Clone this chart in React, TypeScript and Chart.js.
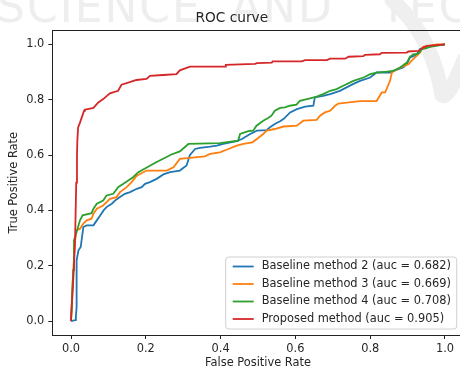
import React, { useEffect, useRef } from "react";
import { Chart, registerables } from "chart.js";

Chart.register(...registerables);

const seriesLabels = [
  "Baseline method 2 (auc = 0.682)",
  "Baseline method 3 (auc = 0.669)",
  "Baseline method 4 (auc = 0.708)",
  "Proposed method (auc = 0.905)",
];
const seriesColors = ["#1f77b4", "#ff7f0e", "#2ca02c", "#d62728"];

const baseline2Fpr = [0, 0.011, 0.013, 0.015, 0.015, 0.020, 0.026, 0.033, 0.042, 0.060, 0.069, 0.078, 0.087, 0.095, 0.109, 0.118, 0.131, 0.144, 0.158, 0.176, 0.189, 0.198, 0.211, 0.229, 0.247, 0.265, 0.291, 0.309, 0.318, 0.332, 0.345, 0.372, 0.390, 0.407, 0.443, 0.457, 0.479, 0.497, 0.523, 0.532, 0.545, 0.559, 0.568, 0.586, 0.604, 0.626, 0.648, 0.652, 0.674, 0.693, 0.719, 0.755, 0.773, 0.800, 0.817, 0.853, 0.862, 0.888, 0.898, 0.906, 0.924, 0.933, 0.947, 0.965, 0.987, 1.0];
const baseline2Tpr = [0, 0.004, 0.015, 0.051, 0.220, 0.256, 0.268, 0.340, 0.346, 0.346, 0.364, 0.382, 0.400, 0.412, 0.424, 0.436, 0.448, 0.460, 0.466, 0.478, 0.484, 0.496, 0.502, 0.514, 0.530, 0.538, 0.544, 0.562, 0.600, 0.622, 0.626, 0.630, 0.634, 0.640, 0.650, 0.658, 0.676, 0.688, 0.690, 0.700, 0.712, 0.722, 0.730, 0.754, 0.766, 0.775, 0.778, 0.808, 0.814, 0.820, 0.832, 0.857, 0.868, 0.880, 0.898, 0.898, 0.904, 0.916, 0.928, 0.952, 0.962, 0.983, 0.988, 0.994, 0.997, 1.0];

const baseline3Fpr = [0, 0.003, 0.006, 0.011, 0.015, 0.024, 0.033, 0.042, 0.055, 0.060, 0.069, 0.086, 0.104, 0.122, 0.131, 0.149, 0.162, 0.176, 0.202, 0.256, 0.274, 0.291, 0.318, 0.358, 0.372, 0.398, 0.416, 0.443, 0.461, 0.485, 0.497, 0.514, 0.523, 0.545, 0.568, 0.604, 0.621, 0.657, 0.666, 0.679, 0.693, 0.706, 0.715, 0.737, 0.773, 0.817, 0.831, 0.840, 0.853, 0.858, 0.880, 0.902, 0.915, 0.933, 0.941, 0.960, 0.978, 1.0];
const baseline3Tpr = [0, 0.08, 0.184, 0.292, 0.328, 0.334, 0.352, 0.364, 0.370, 0.388, 0.406, 0.418, 0.442, 0.448, 0.466, 0.484, 0.502, 0.525, 0.544, 0.544, 0.556, 0.586, 0.590, 0.595, 0.604, 0.610, 0.619, 0.634, 0.640, 0.646, 0.658, 0.676, 0.688, 0.694, 0.703, 0.706, 0.724, 0.727, 0.742, 0.754, 0.760, 0.778, 0.786, 0.789, 0.795, 0.795, 0.826, 0.826, 0.868, 0.898, 0.916, 0.928, 0.946, 0.970, 0.991, 0.994, 1.0, 1.0];

const baseline4Fpr = [0, 0.003, 0.006, 0.008, 0.015, 0.024, 0.031, 0.055, 0.060, 0.069, 0.086, 0.095, 0.113, 0.126, 0.140, 0.153, 0.166, 0.180, 0.193, 0.229, 0.253, 0.267, 0.291, 0.314, 0.398, 0.447, 0.452, 0.474, 0.487, 0.496, 0.514, 0.527, 0.536, 0.545, 0.559, 0.572, 0.585, 0.603, 0.612, 0.639, 0.657, 0.674, 0.693, 0.710, 0.728, 0.755, 0.782, 0.800, 0.817, 0.844, 0.862, 0.880, 0.898, 0.906, 0.915, 0.929, 0.938, 0.951, 0.960, 0.978, 1.0];
const baseline4Tpr = [0, 0.1, 0.184, 0.292, 0.322, 0.364, 0.382, 0.390, 0.406, 0.424, 0.436, 0.454, 0.460, 0.484, 0.496, 0.508, 0.520, 0.538, 0.548, 0.575, 0.591, 0.601, 0.613, 0.640, 0.643, 0.652, 0.676, 0.686, 0.688, 0.706, 0.724, 0.734, 0.742, 0.760, 0.770, 0.772, 0.778, 0.782, 0.796, 0.805, 0.811, 0.820, 0.832, 0.838, 0.850, 0.868, 0.880, 0.892, 0.898, 0.901, 0.904, 0.916, 0.934, 0.955, 0.964, 0.966, 0.983, 0.986, 0.991, 0.995, 1.0];

const proposedFpr = [0, 0.008, 0.011, 0.014, 0.016, 0.017, 0.019, 0.024, 0.035, 0.037, 0.060, 0.073, 0.087, 0.104, 0.126, 0.135, 0.157, 0.175, 0.202, 0.211, 0.246, 0.282, 0.291, 0.318, 0.412, 0.414, 0.492, 0.497, 0.537, 0.539, 0.617, 0.626, 0.684, 0.693, 0.733, 0.742, 0.782, 0.786, 0.826, 0.831, 0.898, 0.902, 0.929, 0.942, 0.951, 1.0];
const proposedTpr = [0, 0.2, 0.3, 0.5, 0.6, 0.652, 0.70, 0.717, 0.76, 0.764, 0.770, 0.790, 0.803, 0.823, 0.832, 0.854, 0.863, 0.871, 0.875, 0.886, 0.889, 0.892, 0.906, 0.919, 0.919, 0.926, 0.929, 0.932, 0.934, 0.938, 0.938, 0.943, 0.943, 0.948, 0.948, 0.955, 0.957, 0.962, 0.964, 0.969, 0.970, 0.974, 0.976, 0.988, 0.994, 1.0];

const tickValues = [0, 0.2, 0.4, 0.6, 0.8, 1.0];

const FONT = "'DejaVu Sans', sans-serif";
const TEXT = "#262626";

const zip = (xs: number[], ys: number[]) => xs.map((x, i) => ({ x, y: ys[i] }));

const backgroundPlugin = {
  id: "bgWatermark",
  beforeDraw(chart: any) {
    const ctx = chart.ctx;
    ctx.save();
    ctx.fillStyle = "#ffffff";
    ctx.fillRect(0, 0, chart.width, chart.height);
    ctx.fillStyle = "#eeeeee";
    ctx.font = `44px ${FONT}`;
    ctx.textBaseline = "alphabetic";
    try { (ctx as any).letterSpacing = "2px"; } catch (e) {}
    ctx.fillText("SCIENCE", -3, 22);
    ctx.fillText("AND", 231, 22);
    ctx.fillText("TECHNOLOGY", 380, 22);
    try { (ctx as any).letterSpacing = "0px"; } catch (e) {}
    ctx.strokeStyle = "#efefef";
    ctx.lineWidth = 15;
    ctx.lineCap = "round";
    ctx.beginPath();
    ctx.moveTo(392, 0);
    ctx.quadraticCurveTo(432, 35, 442, 95);
    ctx.quadraticCurveTo(448, 100, 464, 60);
    ctx.stroke();
    ctx.restore();
  },
};

const framePlugin = {
  id: "frameLegend",
  afterDraw(chart: any) {
    const ctx = chart.ctx;
    const a = chart.chartArea;
    ctx.save();
    ctx.strokeStyle = "#222";
    ctx.lineWidth = 1;
    ctx.strokeRect(Math.round(a.left) + 0.5, Math.round(a.top) + 0.5, Math.round(a.right - a.left), Math.round(a.bottom - a.top));

    const right = a.right - 7;
    const bottom = a.bottom - 6;
    const w = 231;
    const h = 72;
    const left = right - w;
    const top = bottom - h;
    const r = 3;
    ctx.beginPath();
    ctx.moveTo(left + r, top);
    ctx.lineTo(right - r, top);
    ctx.quadraticCurveTo(right, top, right, top + r);
    ctx.lineTo(right, bottom - r);
    ctx.quadraticCurveTo(right, bottom, right - r, bottom);
    ctx.lineTo(left + r, bottom);
    ctx.quadraticCurveTo(left, bottom, left, bottom - r);
    ctx.lineTo(left, top + r);
    ctx.quadraticCurveTo(left, top, left + r, top);
    ctx.closePath();
    ctx.fillStyle = "rgba(255,255,255,0.85)";
    ctx.fill();
    ctx.strokeStyle = "#d0d0d0";
    ctx.lineWidth = 1;
    ctx.stroke();

    ctx.font = `11.4px ${FONT}`;
    ctx.textBaseline = "middle";
    ctx.textAlign = "left";
    chart.data.datasets.forEach((ds: any, i: number) => {
      const y = top + 9.5 + i * 17.5;
      ctx.strokeStyle = ds.borderColor;
      ctx.lineWidth = 1.8;
      ctx.beginPath();
      ctx.moveTo(left + 7, y);
      ctx.lineTo(left + 28, y);
      ctx.stroke();
      ctx.fillStyle = TEXT;
      ctx.fillText(ds.label, left + 36, y);
    });
    ctx.restore();
  },
};

export default function App() {
  const ref = useRef<HTMLCanvasElement | null>(null);

  useEffect(() => {
    if (!ref.current) return;
    const series = [
      zip(baseline2Fpr, baseline2Tpr),
      zip(baseline3Fpr, baseline3Tpr),
      zip(baseline4Fpr, baseline4Tpr),
      zip(proposedFpr, proposedTpr),
    ];
    const tickFont = { family: FONT, size: 11.4 };
    const makeScale = (titleText: string, isX: boolean) => ({
      type: "linear" as const,
      min: -0.05,
      max: 1.05,
      afterBuildTicks: (s: any) => {
        s.ticks = tickValues.map((v) => ({ value: v }));
      },
      afterFit: (s: any) => {
        if (isX) s.height = 37;
        else s.width = 52.3;
      },
      ticks: {
        callback: (v: any) => Number(v).toFixed(1),
        font: tickFont,
        color: TEXT,
        padding: isX ? 3 : 4,
        maxRotation: 0,
        autoSkip: false,
      },
      grid: {
        drawOnChartArea: false,
        drawTicks: true,
        tickLength: 4,
        tickColor: "#222",
        tickWidth: 1,
      },
      border: { display: true, color: "#222", width: 1 },
      title: {
        display: true,
        text: titleText,
        font: tickFont,
        color: TEXT,
        padding: isX ? { top: 0, bottom: 2.2 } : { top: 7.7, bottom: 0 },
      },
    });

    const chart = new Chart(ref.current, {
      type: "scatter",
      data: {
        datasets: series.map((pts, i) => ({
          label: seriesLabels[i],
          data: pts,
          showLine: true,
          borderColor: seriesColors[i],
          backgroundColor: seriesColors[i],
          borderWidth: 1.8,
          pointRadius: 0,
          pointHoverRadius: 0,
          tension: 0,
          fill: false,
          order: 3 - i,
        })),
      },
      options: {
        responsive: false,
        animation: false,
        devicePixelRatio: 1,
        layout: { padding: { left: 0, right: 16.3, top: 0, bottom: 0 } },
        plugins: {
          legend: { display: false },
          tooltip: { enabled: false },
          title: {
            display: true,
            text: "ROC curve",
            color: TEXT,
            font: { family: FONT, size: 13.7, weight: "normal" },
            padding: { top: 10, bottom: 4 },
          },
        },
        scales: {
          x: makeScale("False Positive Rate", true),
          y: makeScale("True Positive Rate", false),
        },
      } as any,
      plugins: [backgroundPlugin, framePlugin],
    });
    return () => chart.destroy();
  }, []);

  return (
    <div
      style={{
        position: "fixed",
        left: 0,
        top: 0,
        width: 460,
        height: 372,
        overflow: "hidden",
        background: "#fff",
      }}
    >
      <canvas
        ref={ref}
        width={480}
        height={372}
        style={{ display: "block", width: 480, height: 372 }}
      />
    </div>
  );
}
